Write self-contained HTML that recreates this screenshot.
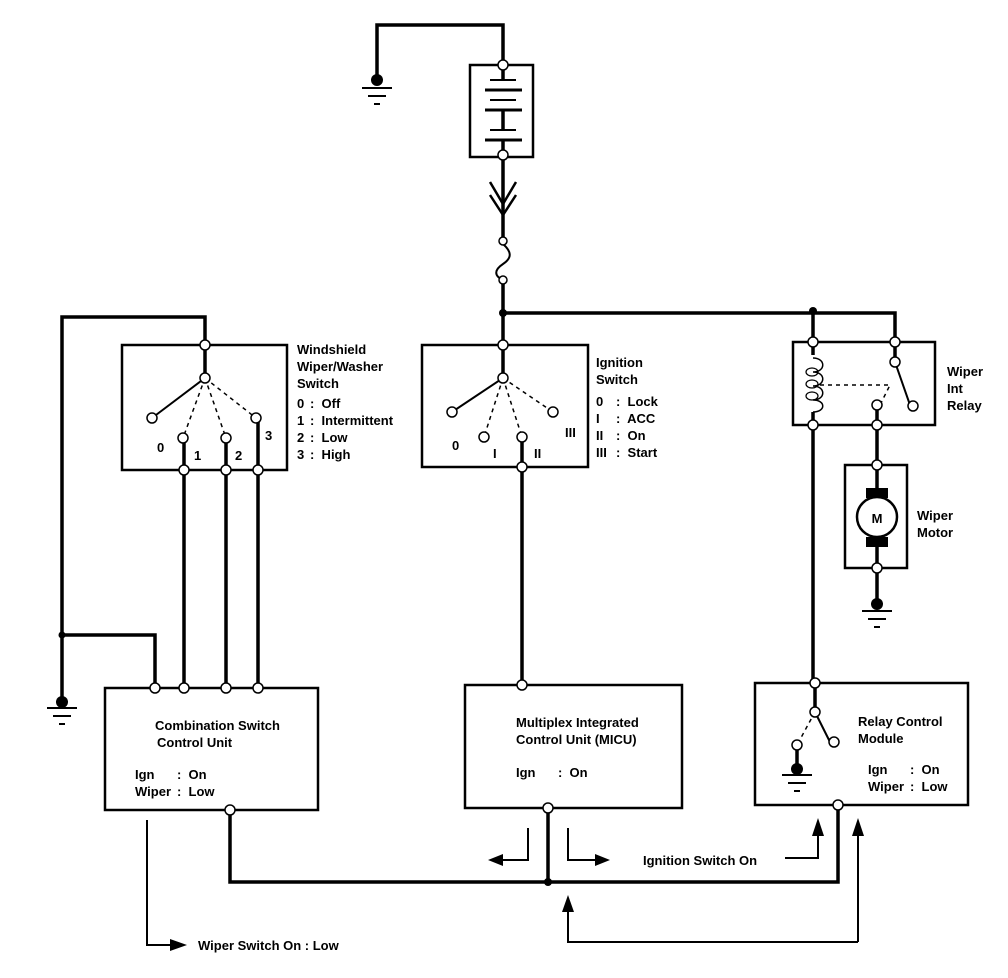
<!DOCTYPE html>
<html><head><style>
html,body{margin:0;padding:0;background:#fff;}
svg{display:block}
text{font-family:"Liberation Sans Narrow","Liberation Sans",sans-serif;font-weight:bold;font-size:13px;fill:#000;white-space:pre}
</style></head><body>
<svg width="1008" height="978" viewBox="0 0 1008 978" xmlns="http://www.w3.org/2000/svg">
<g fill="none" stroke="#000" stroke-width="3.5">
<polyline points="377,78 377,25 503,25 503,65"/>
<rect x="470" y="65" width="63" height="92" stroke-width="2.5"/>
<line x1="503" y1="65" x2="503" y2="80"/>
<line x1="490" y1="80" x2="516" y2="80" stroke-width="2"/>
<line x1="485" y1="90" x2="522" y2="90" stroke-width="3"/>
<line x1="490" y1="100" x2="516" y2="100" stroke-width="2"/>
<line x1="485" y1="110" x2="522" y2="110" stroke-width="3"/>
<line x1="503" y1="110" x2="503" y2="130"/>
<line x1="490" y1="130" x2="516" y2="130" stroke-width="2"/>
<line x1="485" y1="140" x2="522" y2="140" stroke-width="3"/>
<line x1="503" y1="140" x2="503" y2="240"/>
<polyline points="490,182 503,204 516,182" stroke-width="2.5"/>
<polyline points="490,195 503,215 516,195" stroke-width="2.5"/>
<path d="M503,244 C512,252 512,258 503,264 C494,270 494,276 503,280" stroke-width="2"/>
<line x1="503" y1="280" x2="503" y2="345"/>
<polyline points="503,313 813,313 895,313 895,345"/>
<line x1="813" y1="313" x2="813" y2="342"/>
<rect x="422" y="345" width="166" height="122" stroke-width="2.5"/>
<line x1="503" y1="345" x2="503" y2="378"/>
<line x1="503" y1="378" x2="452" y2="412" stroke-width="2"/>
<g stroke-dasharray="4,4" stroke-width="1.5">
<line x1="503" y1="378" x2="484" y2="437"/>
<line x1="503" y1="378" x2="522" y2="437"/>
<line x1="503" y1="378" x2="553" y2="412"/>
</g>
<line x1="522" y1="437" x2="522" y2="685"/>
<rect x="122" y="345" width="165" height="125" stroke-width="2.5"/>
<polyline points="205,378 205,317 62,317 62,700"/>
<line x1="205" y1="378" x2="152" y2="418" stroke-width="2"/>
<g stroke-dasharray="4,4" stroke-width="1.5">
<line x1="205" y1="378" x2="183" y2="438"/>
<line x1="205" y1="378" x2="226" y2="438"/>
<line x1="205" y1="378" x2="256" y2="418"/>
</g>
<line x1="184" y1="438" x2="184" y2="688"/>
<line x1="226" y1="438" x2="226" y2="688"/>
<line x1="258" y1="418" x2="258" y2="688"/>
<polyline points="62,635 155,635 155,688"/>
<rect x="105" y="688" width="213" height="122" stroke-width="2.5"/>
<rect x="465" y="685" width="217" height="123" stroke-width="2.5"/>
<rect x="755" y="683" width="213" height="122" stroke-width="2.5"/>
<polyline points="230,810 230,882 838,882 838,805"/>
<line x1="548" y1="808" x2="548" y2="882"/>
<rect x="793" y="342" width="142" height="83" stroke-width="2.5"/>
<line x1="813" y1="342" x2="813" y2="355"/>
<path d="M813,358 C826,358 826,372 813,372 C826,372 826,386 813,386 C826,386 826,400 813,400 C826,400 826,412 813,412" stroke-width="1.5"/>
<g stroke-width="1.2"><ellipse cx="812" cy="372" rx="6" ry="4"/><ellipse cx="812" cy="384" rx="6" ry="4"/><ellipse cx="812" cy="396" rx="6" ry="4"/></g>
<line x1="813" y1="412" x2="813" y2="683"/>
<line x1="895" y1="342" x2="895" y2="362"/>
<line x1="895" y1="362" x2="910" y2="405" stroke-width="2"/>
<polyline points="820,385 890,385 880,405" stroke-dasharray="4,4" stroke-width="1.5"/>
<line x1="877" y1="405" x2="877" y2="603"/>
<rect x="845" y="465" width="62" height="103" stroke-width="2.5"/>
<line x1="815" y1="683" x2="815" y2="712"/>
<line x1="815" y1="712" x2="830" y2="742" stroke-width="2"/>
<line x1="815" y1="712" x2="797" y2="745" stroke-dasharray="4,4" stroke-width="1.5"/>
<line x1="797" y1="745" x2="797" y2="768"/>
<g stroke-width="2">
<polyline points="528,828 528,860 500,860"/>
<polyline points="568,828 568,860 595,860"/>
<polyline points="785,858 818,858 818,835"/>
<polyline points="858,942 858,835"/>
<polyline points="858,942 568,942 568,910"/>
<polyline points="147,820 147,945 170,945"/>
</g>
<g stroke-width="2">
<line x1="362" y1="88" x2="392" y2="88"/><line x1="368" y1="96" x2="386" y2="96"/><line x1="374" y1="104" x2="380" y2="104"/>
<line x1="47" y1="708" x2="77" y2="708"/><line x1="53" y1="716" x2="71" y2="716"/><line x1="59" y1="724" x2="65" y2="724"/>
<line x1="862" y1="611" x2="892" y2="611"/><line x1="868" y1="619" x2="886" y2="619"/><line x1="874" y1="627" x2="880" y2="627"/>
<line x1="782" y1="775" x2="812" y2="775"/><line x1="788" y1="783" x2="806" y2="783"/><line x1="794" y1="791" x2="800" y2="791"/>
</g>
</g>
<g fill="#000">
<circle cx="377" cy="80" r="6"/><circle cx="62" cy="702" r="6"/><circle cx="877" cy="604" r="6"/><circle cx="797" cy="769" r="6"/>
<circle cx="503" cy="313" r="4"/><circle cx="813" cy="311" r="4"/><circle cx="62" cy="635" r="3.5"/><circle cx="548" cy="882" r="4"/>
<rect x="866" y="488" width="22" height="10"/><rect x="866" y="537" width="22" height="10"/>
<polygon points="488,860 503,854 503,866"/>
<polygon points="610,860 595,854 595,866"/>
<polygon points="818,818 812,836 824,836"/>
<polygon points="858,818 852,836 864,836"/>
<polygon points="568,895 562,912 574,912"/>
<polygon points="187,945 170,939 170,951"/>
</g>
<circle cx="877" cy="517" r="20" fill="#fff" stroke="#000" stroke-width="2.5"/>
<text x="877" y="523" text-anchor="middle" font-size="16">M</text>
<g fill="#fff" stroke="#000" stroke-width="1.5">
<circle cx="503" cy="65" r="5"/><circle cx="503" cy="155" r="5"/><circle cx="503" cy="241" r="4"/><circle cx="503" cy="280" r="4"/>
<circle cx="503" cy="345" r="5"/><circle cx="503" cy="378" r="5"/><circle cx="452" cy="412" r="5"/><circle cx="484" cy="437" r="5"/><circle cx="522" cy="437" r="5"/><circle cx="553" cy="412" r="5"/><circle cx="522" cy="467" r="5"/>
<circle cx="205" cy="345" r="5"/><circle cx="205" cy="378" r="5"/><circle cx="152" cy="418" r="5"/><circle cx="183" cy="438" r="5"/><circle cx="226" cy="438" r="5"/><circle cx="256" cy="418" r="5"/>
<circle cx="184" cy="470" r="5"/><circle cx="226" cy="470" r="5"/><circle cx="258" cy="470" r="5"/>
<circle cx="155" cy="688" r="5"/><circle cx="184" cy="688" r="5"/><circle cx="226" cy="688" r="5"/><circle cx="258" cy="688" r="5"/><circle cx="230" cy="810" r="5"/>
<circle cx="522" cy="685" r="5"/><circle cx="548" cy="808" r="5"/>
<circle cx="815" cy="683" r="5"/><circle cx="815" cy="712" r="5"/><circle cx="797" cy="745" r="5"/><circle cx="834" cy="742" r="5"/><circle cx="838" cy="805" r="5"/>
<circle cx="813" cy="342" r="5"/><circle cx="895" cy="342" r="5"/><circle cx="813" cy="425" r="5"/><circle cx="877" cy="425" r="5"/><circle cx="895" cy="362" r="5"/><circle cx="877" cy="405" r="5"/><circle cx="913" cy="406" r="5"/>
<circle cx="877" cy="465" r="5"/><circle cx="877" cy="568" r="5"/>
</g>
<text x="297" y="354">Windshield</text><text x="297" y="371">Wiper/Washer</text><text x="297" y="388">Switch</text>
<text x="297" y="408">0</text><text x="297" y="425">1</text><text x="297" y="442">2</text><text x="297" y="459">3</text>
<text x="310" y="408">:  Off</text><text x="310" y="425">:  Intermittent</text><text x="310" y="442">:  Low</text><text x="310" y="459">:  High</text>
<text x="157" y="452">0</text><text x="194" y="460">1</text><text x="235" y="460">2</text><text x="265" y="440">3</text>
<text x="596" y="367">Ignition</text><text x="596" y="384">Switch</text>
<text x="596" y="406">0</text><text x="596" y="423">I</text><text x="596" y="440">II</text><text x="596" y="457">III</text>
<text x="616" y="406">:  Lock</text><text x="616" y="423">:  ACC</text><text x="616" y="440">:  On</text><text x="616" y="457">:  Start</text>
<text x="452" y="450">0</text><text x="493" y="458">I</text><text x="534" y="458">II</text><text x="565" y="437">III</text>
<text x="947" y="376">Wiper</text><text x="947" y="393">Int</text><text x="947" y="410">Relay</text>
<text x="917" y="520">Wiper</text><text x="917" y="537">Motor</text>
<text x="155" y="730">Combination Switch</text><text x="157" y="747">Control Unit</text>
<text x="135" y="779">Ign</text><text x="135" y="796">Wiper</text><text x="177" y="779">:  On</text><text x="177" y="796">:  Low</text>
<text x="516" y="727">Multiplex Integrated</text><text x="516" y="744">Control Unit (MICU)</text>
<text x="516" y="777">Ign</text><text x="558" y="777">:  On</text>
<text x="858" y="726">Relay Control</text><text x="858" y="743">Module</text>
<text x="868" y="774">Ign</text><text x="868" y="791">Wiper</text><text x="910" y="774">:  On</text><text x="910" y="791">:  Low</text>
<text x="643" y="865">Ignition Switch On</text>
<text x="198" y="950">Wiper Switch On : Low</text>
</svg>
</body></html>
